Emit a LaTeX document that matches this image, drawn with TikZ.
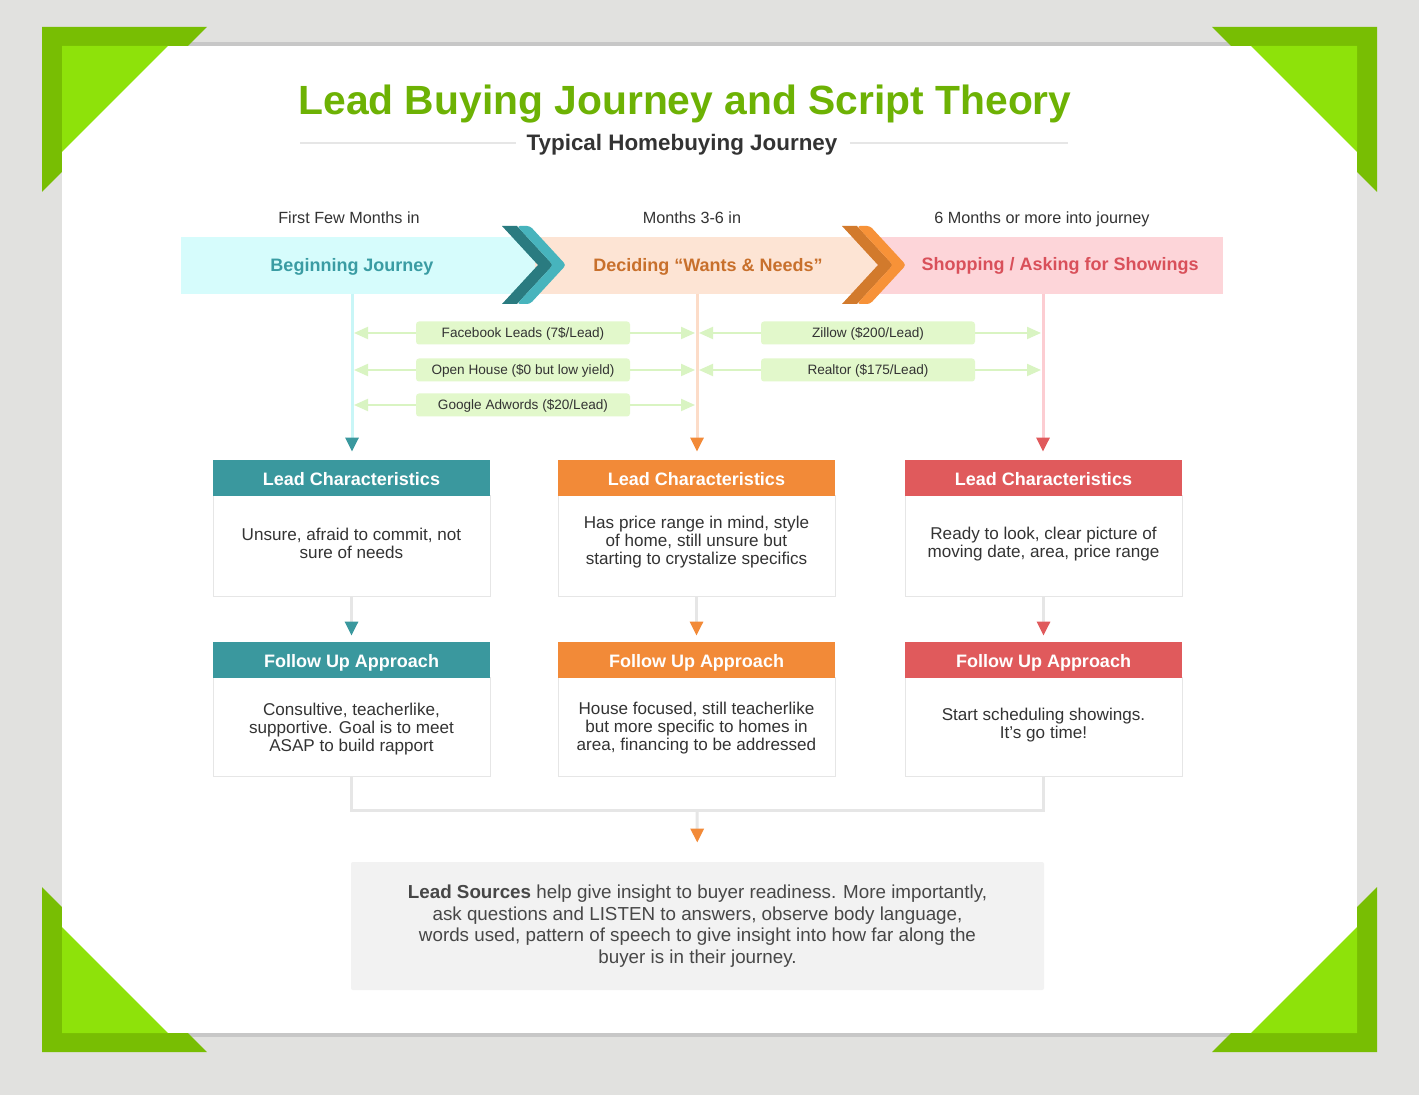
\documentclass[tikz,border=0pt]{standalone}
\usepackage{fontspec}
\setmainfont{Liberation Sans}
\usepackage{xcolor}
\usepackage{tikz}
\usetikzlibrary{arrows.meta}
\definecolor{backdrop}{HTML}{E1E1DF}
\definecolor{leafdark}{HTML}{78BE03}
\definecolor{leaflight}{HTML}{8EE20A}
\definecolor{titlegreen}{HTML}{6DB204}
\definecolor{ink}{HTML}{333333}
\definecolor{tealbg}{HTML}{D6FCFC}
\definecolor{peachbg}{HTML}{FDE4D4}
\definecolor{pinkbg}{HTML}{FDD5D9}
\definecolor{tealdark}{HTML}{2A7B80}
\definecolor{teallight}{HTML}{47B4BD}
\definecolor{orangedark}{HTML}{D27A2C}
\definecolor{orangelight}{HTML}{F79238}
\definecolor{tealhead}{HTML}{3A989E}
\definecolor{orangehead}{HTML}{F28A38}
\definecolor{redhead}{HTML}{E05A5C}
\definecolor{tealtext}{HTML}{3A9CA3}
\definecolor{orangetext}{HTML}{C8702C}
\definecolor{redtext}{HTML}{D9505A}
\definecolor{tealdrop}{HTML}{C9F6F7}
\definecolor{peachdrop}{HTML}{FCDCC8}
\definecolor{pinkdrop}{HTML}{FCCDD2}
\definecolor{srcfill}{HTML}{E2F8CB}
\definecolor{srcline}{HTML}{D9F4C2}
\definecolor{cardline}{HTML}{E6E6E6}
\definecolor{notefill}{HTML}{F2F2F2}

\begin{document}
\begin{tikzpicture}[x=0.5pt,y=-0.5pt]
	\tikzstyle{phase} = [text=ink, inner sep=0pt, text height=5.8pt, text depth=0pt, font=\fontsize{8.1}{9}\selectfont]
	\tikzstyle{stage} = [inner sep=0pt, text height=6.4pt, text depth=0pt, font=\bfseries\fontsize{9}{10}\selectfont]
	\tikzstyle{srcbox} = [fill=srcfill, rounded corners=1.5pt, minimum width=107pt, minimum height=11.5pt, inner sep=0pt, text height=5pt, text depth=0pt, text=ink, font=\fontsize{6.8}{8}\selectfont]
	\tikzstyle{srcarrow} = [srcline, line width=1pt, -{Triangle[length=7pt,width=6pt]}]
	\tikzstyle{cardhead} = [minimum width=138.5pt, minimum height=18pt, inner sep=0pt, text height=7.6pt, text depth=0pt, text=white, font=\bfseries\fontsize{9}{10}\selectfont]
	\tikzstyle{cardbody} = [draw=cardline, fill=white, line width=0.5pt, minimum width=138.5pt, inner sep=0pt]
	\tikzstyle{cardtext} = [align=center, inner sep=0pt, text=ink, font=\fontsize{8.55}{9}\selectfont]
	\tikzstyle{drop} = [line width=1.5pt, shorten >=4pt]
	\tikzstyle{link} = [cardline, line width=1.5pt]

	% Draw the backdrop and the paper
	\fill[backdrop] (0,0) rectangle (1419,1095);
	\fill[black!22] (62,42) rectangle (1357,1037);
	\fill[leafdark] (42,27) -- (207,27) -- (42,192) -- cycle;
	\fill[leafdark] (1377,27) -- (1212,27) -- (1377,192) -- cycle;
	\fill[leafdark] (42,1052) -- (207,1052) -- (42,887) -- cycle;
	\fill[leafdark] (1377,1052) -- (1212,1052) -- (1377,887) -- cycle;
	\fill[white] (62,46) rectangle (1357,1033);
	\fill[leaflight] (62,46) -- (168,46) -- (62,152) -- cycle;
	\fill[leaflight] (1357,46) -- (1251,46) -- (1357,152) -- cycle;
	\fill[leaflight] (62,1033) -- (168,1033) -- (62,927) -- cycle;
	\fill[leaflight] (1357,1033) -- (1251,1033) -- (1357,927) -- cycle;

	% Title
	\node (title) at (685,100) [inner sep=0pt, text height=14.6pt, text depth=0pt, text=titlegreen, font=\bfseries\fontsize{20.4}{24}\selectfont] {Lead Buying Journey and Script Theory};
	\node (subtitle) at (682,143) [inner sep=0pt, text height=8pt, text depth=0pt, text=ink, font=\bfseries\fontsize{11.2}{13}\selectfont] {Typical Homebuying Journey};
	\coordinate (ruleL) at (300,143);
	\coordinate (ruleR) at (1068,143);
	\draw[cardline, line width=1pt] (ruleL) -- ([xshift=-5pt]subtitle.west);
	\draw[cardline, line width=1pt] ([xshift=6pt]subtitle.east) -- (ruleR);

	% Journey band
	\node (when1) at (349,218) [phase] {First Few Months in};
	\node (when2) at (692,218) [phase] {Months 3-6 in};
	\node (when3) at (1042,218) [phase] {6 Months or more into journey};

	\fill[tealbg] (181,237) rectangle (535,294);
	\fill[peachbg] (535,237) rectangle (877,294);
	\fill[pinkbg] (877,237) rectangle (1223,294);

	\foreach \cx/\cd/\cl in {502/tealdark/teallight, 842/orangedark/orangelight}
	{
		\fill[\cd] (\cx,226) -- ++(15,0) -- ++(36,39) -- ++(-36,39) -- ++(-15,0) -- ++(36,-39) -- cycle;
		\fill[\cl, rounded corners=1.5pt] (\cx+15,226) -- ++(13,0) -- ++(36,39) -- ++(-36,39) -- ++(-13,0) -- ++(36,-39) -- cycle;
	}

	\node (stage1) at (352,265) [stage, text=tealtext] {Beginning Journey};
	\node (stage2) at (708,265) [stage, text=orangetext] {Deciding “Wants \& Needs”};
	\node (stage3) at (1060,264) [stage, text=redtext] {Shopping / Asking for Showings};

	% Cards
	\foreach \n/\cx/\hc in {1/351.5/tealhead, 2/696.5/orangehead, 3/1043.5/redhead}
	{
		\node (lcb\n) at (\cx,546.5) [cardbody, minimum height=50.5pt] {};
		\node (lc\n) at (\cx,478) [cardhead, fill=\hc] {Lead Characteristics};
		\node (fub\n) at (\cx,727.5) [cardbody, minimum height=49.5pt] {};
		\node (fu\n) at (\cx,660) [cardhead, fill=\hc] {Follow Up Approach};
	}

	\node (lct1) at ([yshift=1.5pt]lcb1.center) [cardtext] {Unsure, afraid to commit, not\\sure of needs};
	\node (lct2) at ([yshift=2pt]lcb2.center) [cardtext] {Has price range in mind, style\\of home, still unsure but\\starting to crystalize specifics};
	\node (lct3) at ([yshift=1pt]lcb3.center) [cardtext] {Ready to look, clear picture of\\moving date, area, price range};
	\node (fut1) at ([yshift=-1pt]fub1.center) [cardtext] {Consultive, teacherlike,\\supportive. Goal is to meet\\ASAP to build rapport};
	\node (fut2) at ([yshift=-0.5pt]fub2.center) [cardtext] {House focused, still teacherlike\\but more specific to homes in\\area, financing to be addressed};
	\node (fut3) at ([yshift=1pt]fub3.center) [cardtext] {Start scheduling showings.\\It's go time!};

	% Drops from the band to the cards
	\coordinate (drop1) at (352,294);
	\coordinate (drop2) at (697,294);
	\coordinate (drop3) at (1043,294);
	\draw[drop, tealdrop, -{Triangle[length=7pt,width=6.5pt,color=tealhead]}] (drop1) -- (drop1 |- lc1.north);
	\draw[drop, peachdrop, -{Triangle[length=7pt,width=6.5pt,color=orangehead]}] (drop2) -- (drop2 |- lc2.north);
	\draw[drop, pinkdrop, -{Triangle[length=7pt,width=6.5pt,color=redhead]}] (drop3) -- (drop3 |- lc3.north);

	% Lead sources
	\node (fb) at (523,333) [srcbox] {Facebook Leads (7\$/Lead)};
	\node (oh) at (523,370) [srcbox] {Open House (\$0 but low yield)};
	\node (ga) at (523,405) [srcbox] {Google Adwords (\$20/Lead)};
	\node (zi) at (868,333) [srcbox] {Zillow (\$200/Lead)};
	\node (re) at (868,370) [srcbox] {Realtor (\$175/Lead)};

	\foreach \s in {fb,oh,ga}
	{
		\draw[srcarrow] (\s.west) -- ([xshift=1pt]drop1 |- \s.west);
		\draw[srcarrow] (\s.east) -- ([xshift=-1pt]drop2 |- \s.east);
	}
	\foreach \s in {zi,re}
	{
		\draw[srcarrow] (\s.west) -- ([xshift=1pt]drop2 |- \s.west);
		\draw[srcarrow] (\s.east) -- ([xshift=-1pt]drop3 |- \s.east);
	}

	% Links between the cards
	\draw[link, shorten >=3pt, -{Triangle[length=7pt,width=6.5pt,color=tealhead]}] (lcb1.south) -- (fu1.north);
	\draw[link, shorten >=3pt, -{Triangle[length=7pt,width=6.5pt,color=orangehead]}] (lcb2.south) -- (fu2.north);
	\draw[link, shorten >=3pt, -{Triangle[length=7pt,width=6.5pt,color=redhead]}] (lcb3.south) -- (fu3.north);

	% Summary note
	\node (note) at (697.5,926) [fill=notefill, rounded corners=1pt, minimum width=346.5pt, minimum height=64pt, inner sep=0pt, align=center, text=ink!90, font=\fontsize{9.4}{10.8}\selectfont] {\textbf{Lead Sources} help give insight to buyer readiness. More importantly,\\ask questions and LISTEN to answers, observe body language,\\words used, pattern of speech to give insight into how far along the\\buyer is in their journey.};

	\coordinate (join) at (697,811);
	\draw[link] (fub1.south) |- (join) -| (fub3.south);
	\draw[link, shorten >=9.5pt, -{Triangle[length=7pt,width=6.5pt,color=orangehead]}] (join) -- (note.north);
\end{tikzpicture}
\end{document}
